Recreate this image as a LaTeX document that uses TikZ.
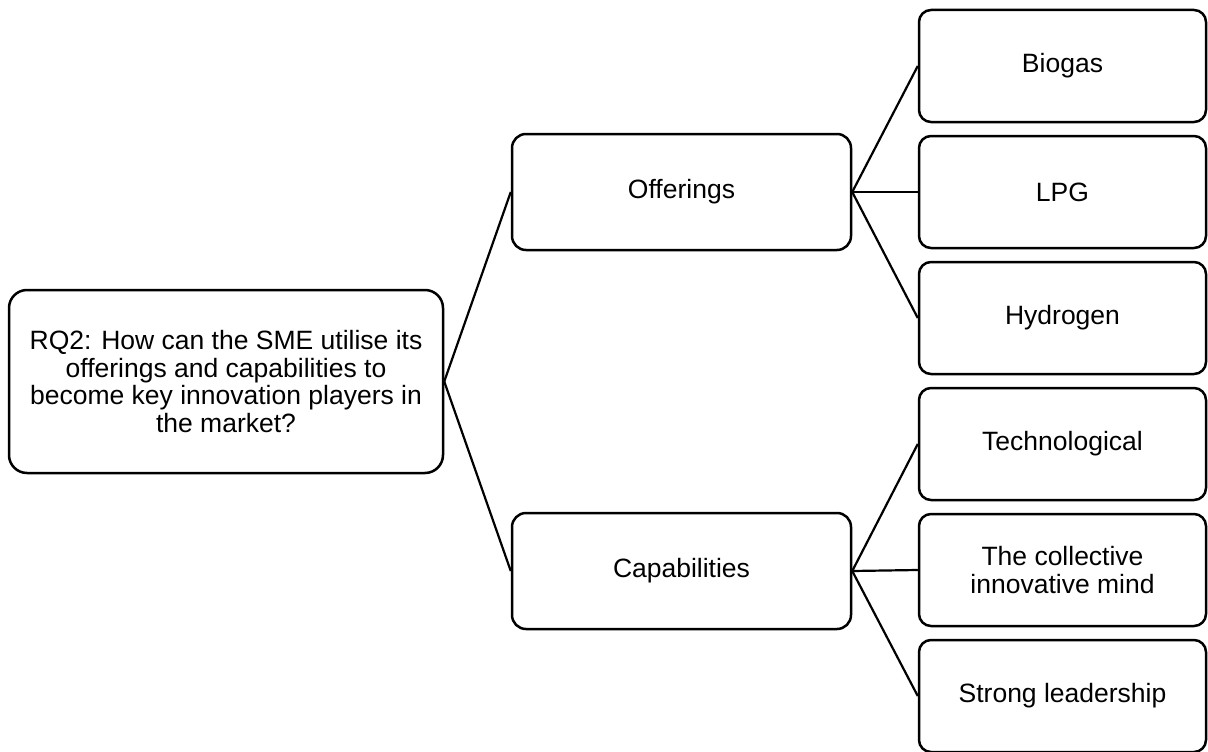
\documentclass[tikz,border=0pt]{standalone}
\usepackage{fontspec}
\setmainfont{Liberation Sans}
\begin{document}
\begin{tikzpicture}[x=1pt,y=-1pt,
  box/.style={draw=black, line width=2.5pt, rounded corners=12pt, align=center,
    inner sep=0pt, font=\fontsize{26.5}{27.5}\selectfont},
  rootbox/.style={box, minimum width=434pt, minimum height=183pt, rounded corners=18pt},
  midbox/.style={box, minimum width=339pt, minimum height=116pt, rounded corners=14pt},
  leafbox/.style={box, minimum width=287pt, minimum height=112pt},
  link/.style={draw=black, line width=2.2pt}]
\useasboundingbox (0,0) rectangle (1208,752);

% research question
\node[rootbox] (rq) at (226,381.5) {RQ2: How can the SME utilise its\\offerings and capabilities to\\become key innovation players in\\the market?};

% second level
\node[midbox] (off) at (681.5,192) {Offerings};
\node[midbox] (cap) at (681.5,571) {Capabilities};

% leaves
\node[leafbox] (bio) at (1062.5,66) {Biogas};
\node[leafbox] (lpg) at (1062.5,192) {LPG};
\node[leafbox] (hyd) at (1062.5,318) {Hydrogen};
\node[leafbox] (tec) at (1062.5,444) {Technological};
\node[leafbox] (col) at (1062.5,570) {The collective\\innovative mind};
\node[leafbox] (lea) at (1062.5,696) {Strong leadership};

% connectors
\draw[link] (rq.east) -- (off.west);
\draw[link] (rq.east) -- (cap.west);
\draw[link] (off.east) -- (bio.west);
\draw[link] (off.east) -- (lpg.west);
\draw[link] (off.east) -- (hyd.west);
\draw[link] (cap.east) -- (tec.west);
\draw[link] (cap.east) -- (col.west);
\draw[link] (cap.east) -- (lea.west);
\end{tikzpicture}
\end{document}
